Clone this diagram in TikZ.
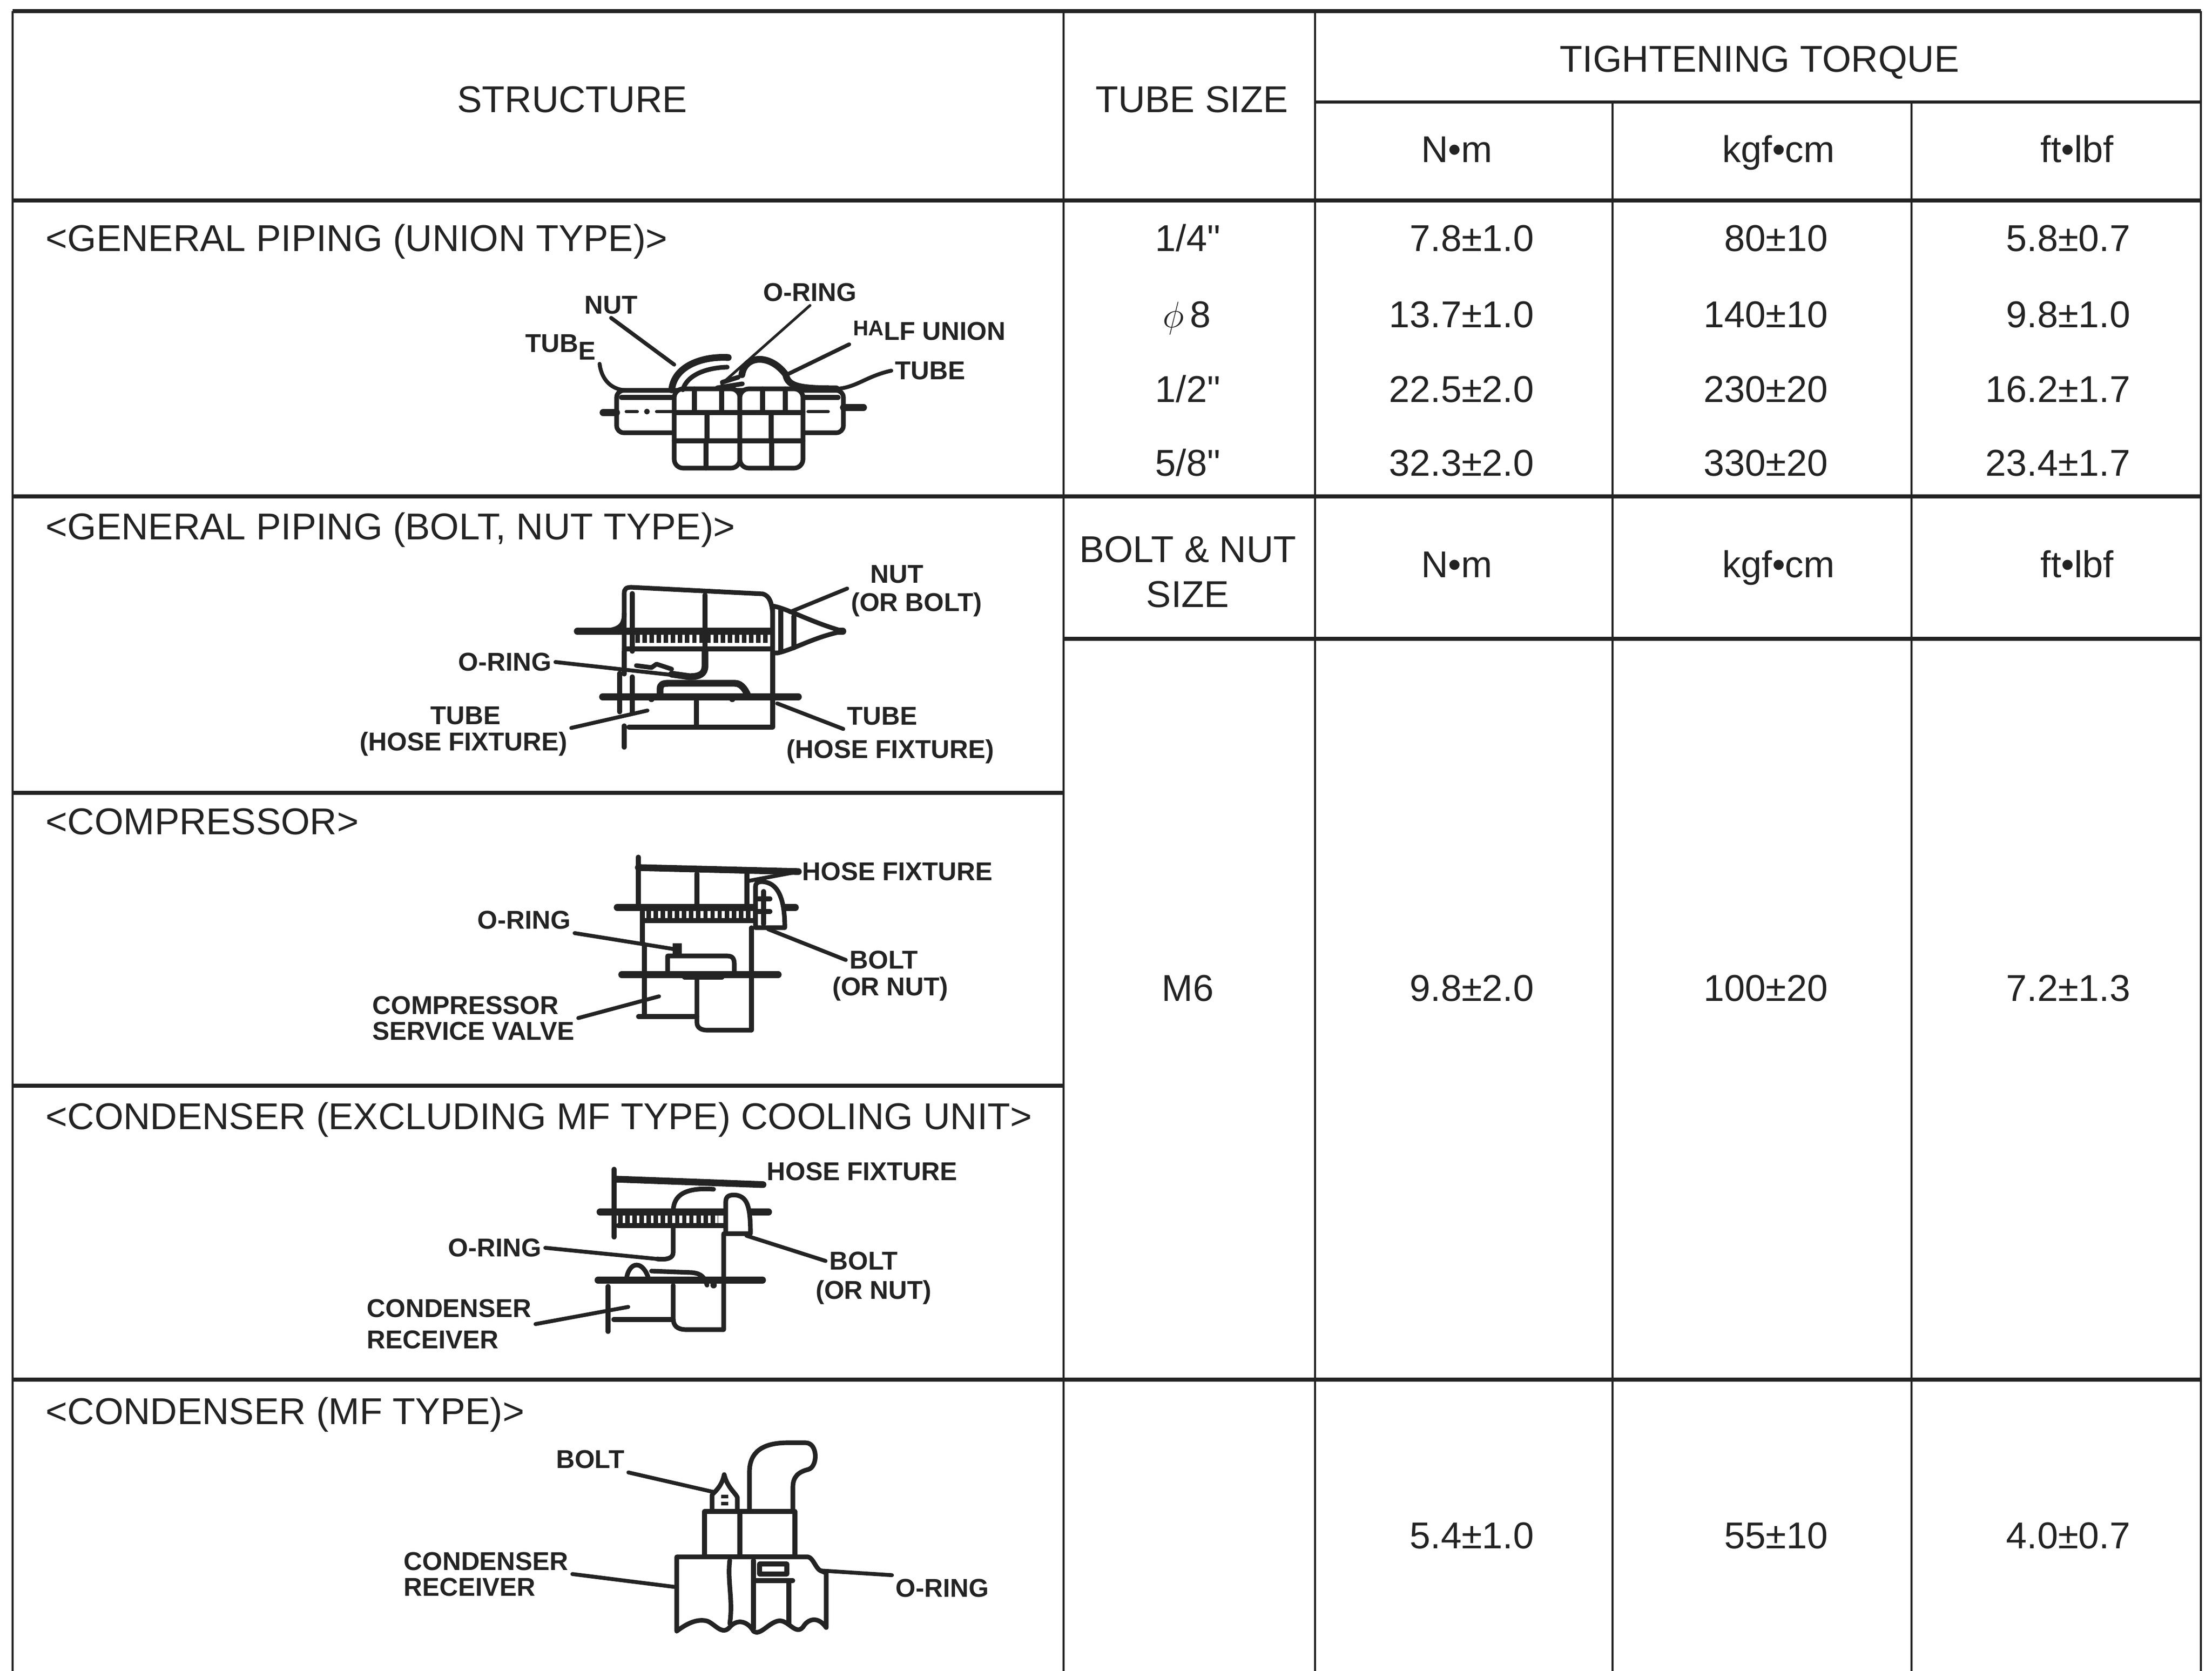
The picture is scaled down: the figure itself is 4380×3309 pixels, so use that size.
\documentclass[tikz,border=0pt]{standalone}
\usepackage{fontspec}
\setmainfont{Liberation Sans}
\usetikzlibrary{positioning}
\definecolor{inkblack}{RGB}{35, 35, 35}

\begin{document}
\begin{tikzpicture}[x=0.01cm, y=-0.01cm,
        rule/.style={draw=inkblack, line width=2.4pt},
        thinrule/.style={draw=inkblack, line width=1.2pt},
        head/.style={font=\fontsize{21}{25}\selectfont, text=inkblack, inner sep=0pt, anchor=base},
        val/.style={font=\fontsize{21}{25}\selectfont, text=inkblack, inner sep=0pt, anchor=base east},
        title/.style={font=\fontsize{21}{25}\selectfont, text=inkblack, inner sep=0pt, anchor=base west},
        tag/.style={font=\fontsize{14.5}{16}\selectfont\bfseries, text=inkblack, inner sep=2pt, align=center},
        part/.style={draw=inkblack, line width=2.6pt, line cap=round, line join=round},
        heavy/.style={part, line width=3.8pt},
        thread/.style={draw=inkblack, line width=7pt, dash pattern=on 2.5pt off 1.5pt},
        leader/.style={draw=inkblack, line width=2.2pt, line cap=round}
    ]
    \useasboundingbox (0,0) rectangle (4380,3309);

    \foreach \cx in {25, 2106, 2604, 4358}
        \draw[thinrule] (\cx,22) -- (\cx,3309);
    \foreach \cx in {3193, 3785}
        \draw[thinrule] (\cx,202) -- (\cx,3309);
    \foreach \ry in {22, 397, 983, 2732}
        \draw[rule] (25,\ry) -- (4358,\ry);
    \foreach \ry in {1570, 2150}
        \draw[rule] (25,\ry) -- (2106,\ry);
    \draw[rule] (2106,1265) -- (4358,1265);
    \draw[thinrule, line width=1.8pt] (2604,202) -- (4358,202);

    \node[head] (hstruct) at (1133,223) {STRUCTURE};
    \node[head] (htube) at (2360,223) {TUBE SIZE};
    \node[head] (htorque) at (3484,143) {TIGHTENING TORQUE};
    \node[head] (hnm) at (2885,321) {N•m};
    \node[head] (hkgf) at (3522,321) {kgf•cm};
    \node[head] (hftlb) at (4113,321) {ft•lbf};

    \node[head] (t1) at (2352,497) {1/4\textquotedbl};
    \node[head] (t2) at (2350,648) {$\phi$\,8};
    \node[head] (t3) at (2352,796) {1/2\textquotedbl};
    \node[head] (t4) at (2352,942) {5/8\textquotedbl};
    \foreach \ry/\a/\b/\c in {497/7.8±1.0/80±10/5.8±0.7, 648/13.7±1.0/140±10/9.8±1.0,
                              796/22.5±2.0/230±20/16.2±1.7, 942/32.3±2.0/330±20/23.4±1.7}
    {
        \node[val] (nm\ry) at (3038,\ry) {\a};
        \node[val] (kg\ry) at (3620,\ry) {\b};
        \node[val] (ft\ry) at (4219,\ry) {\c};
    }

    \node[head] (hbolt) at (2352,1113) {BOLT \& NUT};
    \node[head] (hsize) at (2352,1202) {SIZE};
    \node[head] (hnm2) at (2885,1143) {N•m};
    \node[head] (hkgf2) at (3522,1143) {kgf•cm};
    \node[head] (hftlb2) at (4113,1143) {ft•lbf};

    \node[head] (m6) at (2352,1982) {M6};
    \node[val] (nm6) at (3038,1982) {9.8±2.0};
    \node[val] (kg6) at (3620,1982) {100±20};
    \node[val] (ft6) at (4219,1982) {7.2±1.3};
    \node[val] (nmmf) at (3038,3066) {5.4±1.0};
    \node[val] (kgmf) at (3620,3066) {55±10};
    \node[val] (ftmf) at (4219,3066) {4.0±0.7};

    \node[title] (sunion) at (90,497) {<GENERAL PIPING (UNION TYPE)>};
    \node[title] (sbolt) at (90,1068) {<GENERAL PIPING (BOLT, NUT TYPE)>};
    \node[title] (scomp) at (90,1652) {<COMPRESSOR>};
    \node[title] (scond) at (90,2236) {<CONDENSER (EXCLUDING MF TYPE) COOLING UNIT>};
    \node[title] (smf) at (90,2820) {<CONDENSER (MF TYPE)>};

    \draw[part, fill=white, rounded corners=4pt] (1221,773) rectangle (1670,857);
    \draw[heavy] (1194,817) -- (1221,817) (1670,807) -- (1710,807);
    \draw[part] (1230,787) -- (1335,787) (1590,787) -- (1660,787);
    \draw[part, line width=1.8pt] (1240,815) -- (1262,815) (1300,815) -- (1330,815) (1600,815) -- (1640,815);
    \fill[inkblack] (1281,815) circle[radius=1.6pt] (1589,815) circle[radius=1.6pt];
    \draw[part, fill=white, rounded corners=5pt] (1335,770) rectangle (1465,927);
    \draw[part, fill=white, rounded corners=5pt] (1465,770) rectangle (1590,927);
    \draw[part] (1335,817) -- (1590,817) (1335,873) -- (1590,873);
    \draw[part] (1375,770) -- (1375,817) (1429,770) -- (1429,817) (1510,770) -- (1510,817) (1555,770) -- (1555,817);
    \draw[part] (1400,817) -- (1400,873) (1527,817) -- (1527,873) (1398,873) -- (1398,927) (1528,873) -- (1528,927);
    \draw[heavy] (1330,772) .. controls (1335,725) and (1390,705) .. (1442,708);
    \draw[part] (1352,772) .. controls (1360,742) and (1400,728) .. (1440,727);
    \draw[heavy] (1469,742) .. controls (1475,703) and (1525,700) .. (1556,742)
        .. controls (1560,766) and (1585,770) .. (1656,770);
    \draw[part] (1430,757) -- (1462,747) (1420,768) -- (1470,760);

    \node[tag] (unut) at (1210,604) {NUT};
    \node[tag] (uoring) at (1604,579) {O-RING};
    \node[tag, anchor=base west] (utubel) at (1033,697) {TUB\raisebox{-4.5pt}{E}};
    \node[tag] (uhalf) at (1840,655) {\raisebox{2.5pt}{\fontsize{12}{12}\selectfont HA}LF UNION};
    \node[tag] (utuber) at (1842,734) {TUBE};
    \coordinate (unutp) at (1335,722);
    \coordinate (uoringp) at (1429,760);
    \coordinate (uhalfp) at (1562,740);
    \coordinate (utubelp) at (1241,773);
    \coordinate (utuberp) at (1656,770);
    \draw[leader] (unut.south) -- (unutp);
    \draw[leader, line width=1.5pt] (uoring.south) -- (uoringp);
    \draw[leader] (uhalf.south west) -- (uhalfp);
    \draw[leader] (utubel.south east) .. controls (1190,745) and (1205,772) .. (utubelp);
    \draw[leader] (utuber.west) .. controls (1715,745) and (1695,768) .. (utuberp);

    \draw[part, fill=white] (1236,1290) -- (1236,1175) .. controls (1236,1166) and (1240,1163) .. (1250,1163)
        -- (1510,1176) .. controls (1525,1180) and (1528,1195) .. (1530,1215) -- (1530,1293);
    \draw[part] (1252,1175) -- (1252,1290) (1396,1178) -- (1396,1290);
    \draw[part] (1236,1215) .. controls (1236,1245) and (1220,1250) .. (1170,1250);
    \draw[heavy] (1143,1250) -- (1669,1250);
    \draw[thread] (1258,1261) -- (1522,1261);
    \draw[part] (1236,1285) -- (1530,1285);
    \draw[part, fill=white] (1530,1200) .. controls (1560,1205) and (1600,1230) .. (1669,1250)
        .. controls (1610,1262) and (1575,1285) .. (1540,1293) -- (1530,1293) -- cycle;
    \draw[part] (1546,1208) -- (1546,1290) (1572,1220) -- (1572,1283);
    \draw[part] (1236,1290) -- (1236,1335);
    \draw[heavy] (1396,1290) -- (1396,1318) .. controls (1396,1335) and (1385,1340) .. (1365,1340) -- (1330,1335);
    \draw[part] (1260,1318) -- (1290,1322) -- (1300,1315) -- (1330,1325);
    \draw[part] (1227,1333) -- (1227,1410) (1252,1340) -- (1252,1410);
    \draw[heavy] (1307,1380) -- (1307,1365) .. controls (1307,1355) and (1312,1353) .. (1325,1353)
        -- (1455,1353) .. controls (1470,1353) and (1478,1370) .. (1482,1380);
    \draw[heavy] (1193,1380) -- (1581,1380);
    \fill[inkblack] (1290,1384) circle[radius=1.8pt] (1450,1384) circle[radius=1.8pt];
    \draw[part] (1379,1388) -- (1379,1440) (1530,1293) -- (1530,1440);
    \draw[part] (1245,1440) -- (1530,1440) (1236,1437) -- (1236,1480);

    \node[tag] (bnut) at (1776,1137) {NUT};
    \node[tag] (bbolt) at (1815,1197) {(OR BOLT)};
    \node[tag] (boring) at (1000,1311) {O-RING};
    \node[tag] (btubel) at (922,1417) {TUBE};
    \node[tag] (bhosel) at (918,1473) {(HOSE FIXTURE)};
    \node[tag] (btuber) at (1747,1418) {TUBE};
    \node[tag] (bhoser) at (1763,1488) {(HOSE FIXTURE)};
    \coordinate (bboltp) at (1564,1212);
    \coordinate (boringp) at (1362,1340);
    \coordinate (btubelp) at (1282,1407);
    \coordinate (btuberp) at (1539,1393);
    \draw[leader] (bbolt.north west) -- (bboltp);
    \draw[leader] (boring.east) -- (boringp);
    \draw[leader] (bhosel.north east) -- (btubelp);
    \draw[leader] (btuber.south west) -- (btuberp);

    \node[tag] (chose) at (1777,1726) {HOSE FIXTURE};
    \node[tag] (coring) at (1038,1822) {O-RING};
    \node[tag] (cbolt) at (1750,1901) {BOLT};
    \node[tag] (cnut) at (1763,1958) {(OR NUT)};
    \node[tag, align=left, anchor=west] (cvalve) at (730,2016) {COMPRESSOR\\[-1.5pt]SERVICE VALVE};
    \draw[part] (1264,1697) -- (1264,1790);
    \draw[heavy] (1264,1718) -- (chose.west);
    \draw[part] (1380,1730) -- (1380,1790) (1479,1730) -- (1479,1797);
    \draw[heavy] (1222,1797) -- (1575,1797);
    \draw[thread] (1280,1811) -- (1496,1811);
    \draw[part] (1272,1805) -- (1272,1823) -- (1496,1823);
    \draw[part, fill=white] (1496,1837) -- (1496,1755) .. controls (1496,1745) and (1510,1743) .. (1525,1750)
        .. controls (1545,1760) and (1554,1790) .. (1554,1837) -- cycle;
    \draw[part] (1512,1765) -- (1512,1830) (1500,1780) -- (1525,1780) (1500,1805) -- (1525,1805);
    \draw[part] (1272,1823) -- (1272,1867) (1488,1837) -- (1488,2040);
    \draw[heavy] (1231,1930) -- (1541,1930);
    \draw[part] (1322,1930) -- (1322,1893) -- (1440,1893) .. controls (1452,1893) and (1454,1900) .. (1454,1910) -- (1454,1930);
    \draw[part] (1355,1935) -- (1430,1935);
    \draw[part] (1380,1935) -- (1380,2025) .. controls (1380,2036) and (1390,2040) .. (1400,2040) -- (1488,2040);
    \draw[part] (1276,1870) -- (1276,2013) (1264,2013) -- (1380,2013);
    \fill[inkblack] (1332,1868) rectangle (1350,1893);
    \coordinate (chosep) at (1479,1745);
    \coordinate (coringp) at (1338,1880);
    \coordinate (cboltp) at (1521,1840);
    \coordinate (cvalvep) at (1305,1973);
    \draw[leader] (chose.west) -- (chosep);
    \draw[leader] (coring.south east) -- (coringp);
    \draw[leader] (cbolt.west) -- (cboltp);
    \draw[leader] (cvalve.east) -- (cvalvep);

    \node[tag] (khose) at (1707,2320) {HOSE FIXTURE};
    \node[tag] (koring) at (980,2471) {O-RING};
    \node[tag] (kbolt) at (1710,2497) {BOLT};
    \node[tag] (knut) at (1730,2559) {(OR NUT)};
    \node[tag, align=left, anchor=west] (krecv) at (719,2622) {CONDENSER\\[1.4pt]RECEIVER};
    \draw[part] (1216,2315) -- (1216,2450);
    \draw[heavy] (1220,2335) -- (khose.south west);
    \draw[part] (1413,2355) .. controls (1345,2350) and (1333,2375) .. (1333,2400);
    \draw[heavy] (1188,2400) -- (1522,2400);
    \draw[thread] (1224,2414) -- (1421,2414);
    \draw[part] (1224,2427) -- (1437,2427);
    \draw[part, fill=white] (1437,2443) -- (1437,2380) .. controls (1437,2368) and (1445,2365) .. (1460,2367)
        .. controls (1480,2372) and (1486,2390) .. (1486,2443) -- cycle;
    \draw[part] (1333,2430) -- (1333,2480) .. controls (1333,2492) and (1320,2495) .. (1301,2493);
    \draw[part] (1433,2443) -- (1433,2633) -- (1360,2633) .. controls (1340,2633) and (1333,2625) .. (1333,2610) -- (1333,2545);
    \draw[heavy] (1184,2535) -- (1510,2535);
    \draw[part] (1240,2535) .. controls (1245,2495) and (1275,2495) .. (1285,2535);
    \draw[part] (1290,2517) -- (1370,2520) .. controls (1390,2522) and (1395,2530) .. (1400,2545);
    \draw[part] (1204,2547) -- (1204,2637) (1215,2613) -- (1333,2613);
    \fill[inkblack] (1413,2545) circle[radius=1.8pt];
    \coordinate (koringp) at (1301,2493);
    \coordinate (kboltp) at (1478,2447);
    \coordinate (krecvp) at (1244,2588);
    \draw[leader] (koring.east) -- (koringp);
    \draw[leader] (kbolt.west) -- (kboltp);
    \draw[leader] (krecv.east) -- (krecvp);

    \node[tag] (mbolt) at (1169,2890) {BOLT};
    \node[tag, align=left, anchor=west] (mrecv) at (792,3117) {CONDENSER\\[-1.5pt]RECEIVER};
    \node[tag] (moring) at (1866,3145) {O-RING};
    \draw[part, fill=white] (1484,2993) -- (1484,2915) .. controls (1484,2875) and (1510,2857) .. (1560,2857)
        -- (1595,2857) .. controls (1620,2857) and (1620,2905) .. (1600,2910)
        .. controls (1580,2915) and (1570,2925) .. (1570,2945) -- (1570,2993);
    \draw[part, fill=white] (1410,2993) -- (1410,2960) .. controls (1420,2950) and (1430,2940) .. (1434,2920)
        .. controls (1440,2945) and (1455,2955) .. (1460,2965) -- (1460,2993);
    \draw[inkblack, line width=4pt, dash pattern=on 2pt off 2pt] (1435,2960) -- (1435,2990);
    \draw[part, fill=white] (1395,2993) rectangle (1574,3083);
    \draw[part] (1465,2993) -- (1465,3083);
    \draw[part, fill=white] (1340,3230) -- (1340,3083) -- (1600,3083) .. controls (1610,3085) and (1615,3105) .. (1624,3110)
        -- (1636,3115) -- (1636,3223) .. controls (1620,3200) and (1600,3205) .. (1590,3222)
        .. controls (1575,3240) and (1560,3205) .. (1540,3210) .. controls (1520,3215) and (1505,3240) .. (1492,3230)
        .. controls (1480,3210) and (1460,3205) .. (1445,3222) .. controls (1430,3240) and (1415,3215) .. (1400,3210)
        .. controls (1380,3205) and (1360,3215) .. (1340,3230);
    \draw[part] (1445,3090) .. controls (1440,3130) and (1452,3170) .. (1445,3215);
    \draw[part] (1492,3090) -- (1492,3225) (1562,3135) -- (1562,3215);
    \draw[part] (1504,3097) rectangle (1558,3117) (1495,3130) -- (1570,3130);
    \coordinate (mboltp) at (1415,2955);
    \coordinate (mrecvp) at (1340,3143);
    \coordinate (moringp) at (1624,3110);
    \draw[leader] (mbolt.south east) -- (mboltp);
    \draw[leader] (mrecv.east) -- (mrecvp);
    \draw[leader] (moring.north west) -- (moringp);
\end{tikzpicture}
\end{document}
